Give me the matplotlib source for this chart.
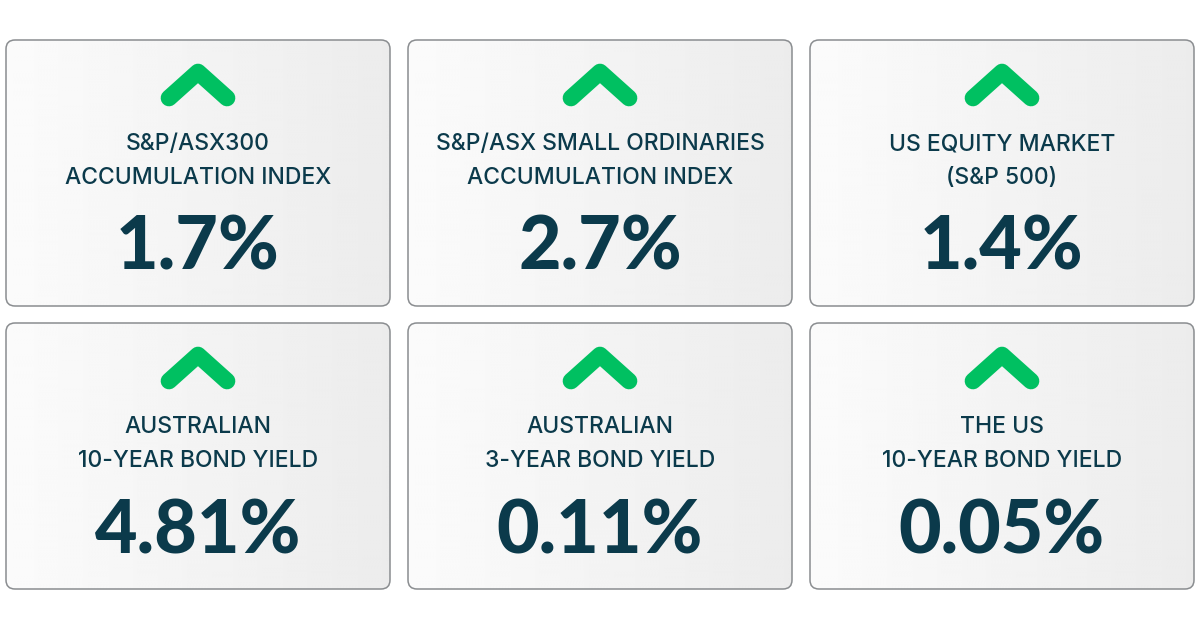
import matplotlib

matplotlib.use("Agg")
import matplotlib.pyplot as plt
import numpy as np
from matplotlib.patches import FancyBboxPatch

# card content, row by row
titles = [
    "S&P/ASX300\nACCUMULATION INDEX",
    "S&P/ASX SMALL ORDINARIES\nACCUMULATION INDEX",
    "US EQUITY MARKET\n(S&P 500)",
    "AUSTRALIAN\n10-YEAR BOND YIELD",
    "AUSTRALIAN\n3-YEAR BOND YIELD",
    "THE US\n10-YEAR BOND YIELD",
]
values = [1.7, 2.7, 1.4, 4.81, 0.11, 0.05]
decimals = [1, 1, 1, 2, 2, 2]
direction = ["up", "up", "up", "up", "up", "up"]

TEXT = "#0b3a4b"
GREEN = "#00c061"
EDGE = "#8a8d90"

W, H = 1200, 630
fig = plt.figure(figsize=(W / 100, H / 100), dpi=100)
ax = fig.add_axes([0, 0, 1, 1])
ax.set_xlim(0, W)
ax.set_ylim(H, 0)
ax.axis("off")

card_x = [6, 408, 810]
card_y = [40, 323]
card_w, card_h = 384, 266

grad = np.linspace(0.985, 0.925, 256).reshape(1, -1)

for i, (title, val, dec, d) in enumerate(zip(titles, values, decimals, direction)):
    x0 = card_x[i % 3]
    y0 = card_y[i // 3]
    box = FancyBboxPatch((x0, y0), card_w, card_h,
                         boxstyle="round,pad=0,rounding_size=9",
                         facecolor="none", edgecolor=EDGE, linewidth=1.1,
                         zorder=3)
    ax.add_patch(box)
    im = ax.imshow(grad, cmap="gray", vmin=0, vmax=1, aspect="auto",
                   extent=(x0, x0 + card_w, y0 + card_h, y0), zorder=1,
                   interpolation="bicubic")
    im.set_clip_path(box)

    cx = x0 + card_w / 2
    # chevron
    ay = y0 + 32
    sgn = 1 if d == "up" else -1
    ax.plot([cx - 29, cx, cx + 29], [ay + sgn * 26, ay, ay + sgn * 26],
            color=GREEN, linewidth=12, solid_capstyle="round",
            solid_joinstyle="round", zorder=4)

    ax.text(cx, y0 + 121, title, ha="center", va="center", color=TEXT,
            fontsize=16.5, fontfamily="Inter", fontweight="medium",
            linespacing=1.65, zorder=5)
    ax.text(cx, y0 + 202, f"{val:.{dec}f}%", ha="center", va="center_baseline",
            color=TEXT, fontsize=53, fontfamily="Lato", fontweight="black",
            zorder=5)

fig.savefig("out.png", dpi=100, facecolor="white")
